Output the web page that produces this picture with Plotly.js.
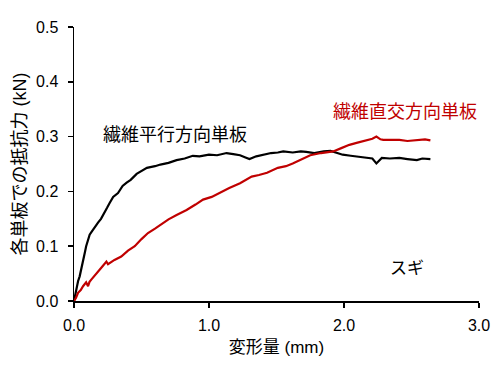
<!DOCTYPE html>
<html>
<head>
<meta charset="utf-8">
<script src="https://cdn.plot.ly/plotly-3.0.1.min.js"></script>
<style>html,body{margin:0;padding:0;background:#fff;}#chart{width:500px;height:365px;}</style>
</head>
<body>
<div id="chart"></div>
<script>
// 繊維平行方向単板 (black)
const parallelX = [0,0.005,0.017,0.03,0.042,0.055,0.067,0.08,0.09,0.105,0.116,0.13,0.14,0.16,0.178,0.2,0.227,0.245,0.264,0.29,0.326,0.36,0.39,0.42,0.464,0.5,0.54,0.6,0.64,0.7,0.76,0.82,0.88,0.93,1.0,1.06,1.13,1.18,1.23,1.27,1.30,1.35,1.40,1.46,1.51,1.55,1.62,1.68,1.72,1.78,1.85,1.90,1.95,1.99,2.05,2.11,2.17,2.21,2.24,2.28,2.34,2.41,2.47,2.54,2.58,2.64];
const parallelY = [0,0.006,0.027,0.036,0.045,0.058,0.07,0.088,0.1,0.112,0.121,0.126,0.13,0.136,0.143,0.15,0.161,0.17,0.179,0.19,0.197,0.21,0.216,0.221,0.232,0.238,0.243,0.246,0.249,0.252,0.257,0.26,0.265,0.264,0.267,0.266,0.27,0.268,0.266,0.262,0.259,0.264,0.267,0.27,0.271,0.273,0.271,0.273,0.272,0.27,0.273,0.274,0.27,0.267,0.265,0.263,0.261,0.26,0.251,0.261,0.26,0.261,0.259,0.257,0.26,0.259];
// 繊維直交方向単板 (red)
const perpX = [0,0.015,0.03,0.05,0.067,0.09,0.104,0.115,0.128,0.15,0.178,0.21,0.24,0.252,0.3,0.35,0.4,0.45,0.5,0.548,0.6,0.65,0.7,0.76,0.834,0.9,0.956,1.02,1.08,1.15,1.23,1.28,1.316,1.37,1.43,1.51,1.57,1.62,1.68,1.75,1.83,1.92,1.98,2.04,2.1,2.17,2.21,2.24,2.27,2.29,2.35,2.41,2.47,2.54,2.6,2.64];
const perpY = [0,0.006,0.015,0.02,0.027,0.034,0.027,0.035,0.039,0.046,0.054,0.063,0.072,0.067,0.075,0.081,0.092,0.1,0.113,0.124,0.132,0.141,0.149,0.157,0.166,0.176,0.185,0.19,0.198,0.206,0.215,0.222,0.227,0.23,0.234,0.243,0.246,0.251,0.258,0.266,0.27,0.273,0.279,0.285,0.289,0.293,0.296,0.3,0.295,0.294,0.294,0.294,0.292,0.294,0.295,0.293];

const xTitle = "変形量 (mm)";
const yTitle = "各単板での抵抗力 (kN)";
const labelParallel = "繊維平行方向単板";
const labelPerp = "繊維直交方向単板";
const labelSpecies = "スギ";

const latin = "Liberation Sans, Arial, Noto Sans CJK JP, sans-serif";
const cjk = "Noto Sans CJK JP, Liberation Sans, sans-serif";

const traces = [
  {x: parallelX, y: parallelY, type: "scatter", mode: "lines", line: {color: "#000000", width: 2.2}, hoverinfo: "skip"},
  {x: perpX, y: perpY, type: "scatter", mode: "lines", line: {color: "#c00000", width: 2.2}, hoverinfo: "skip"}
];

const layout = {
  width: 500, height: 365,
  margin: {l: 74, r: 21, t: 27, b: 64},
  paper_bgcolor: "#ffffff", plot_bgcolor: "#ffffff",
  showlegend: false,
  xaxis: {
    range: [0, 3], dtick: 1, tick0: 0, tickformat: ".1f",
    showgrid: false, zeroline: false, showline: true, linecolor: "#000", linewidth: 1.5,
    ticks: "outside", ticklen: 5, tickcolor: "#000", tickwidth: 1.5,
    ticklabelstandoff: 4,
    tickfont: {family: latin, size: 16, color: "#000"},
    title: {text: xTitle, font: {family: latin, size: 17, color: "#000"}, standoff: 8}
  },
  yaxis: {
    range: [0, 0.5], dtick: 0.1, tick0: 0, tickformat: ".1f",
    showgrid: false, zeroline: false, showline: true, linecolor: "#000", linewidth: 1.5,
    ticks: "outside", ticklen: 5, tickcolor: "#000", tickwidth: 1.5,
    ticklabelstandoff: 6,
    tickfont: {family: latin, size: 16, color: "#000"},
    title: {text: yTitle, font: {family: latin, size: 18, color: "#000"}, standoff: 4}
  },
  annotations: [
    {x: 0.75, y: 0.306, xref: "x", yref: "y", text: labelParallel, showarrow: false, font: {family: cjk, size: 18, color: "#000"}},
    {x: 2.45, y: 0.349, xref: "x", yref: "y", text: labelPerp, showarrow: false, font: {family: cjk, size: 18, color: "#c00000"}},
    {x: 2.47, y: 0.063, xref: "x", yref: "y", text: labelSpecies, showarrow: false, font: {family: cjk, size: 17, color: "#000"}}
  ]
};

Plotly.newPlot("chart", traces, layout, {displayModeBar: false, staticPlot: true});
</script>
</body>
</html>
